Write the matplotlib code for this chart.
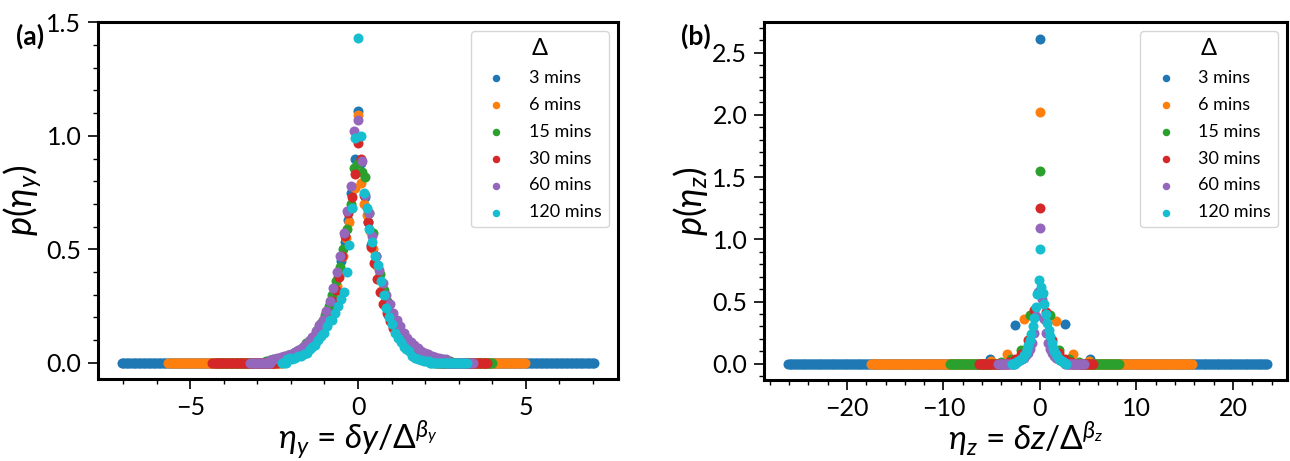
import numpy as np
import matplotlib
matplotlib.use("Agg")
import matplotlib.pyplot as plt
from matplotlib.ticker import MultipleLocator

plt.rcParams['font.family'] = ['Lato', 'DejaVu Sans']
plt.rcParams['mathtext.fontset'] = 'custom'
plt.rcParams['mathtext.rm'] = 'Lato'
plt.rcParams['mathtext.it'] = 'Lato:italic'
plt.rcParams['mathtext.bf'] = 'Lato:bold'

labels = ['3 mins', '6 mins', '15 mins', '30 mins', '60 mins', '120 mins']
colors = ['#1f77b4', '#ff7f0e', '#2ca02c', '#d62728', '#9467bd', '#17becf']

# ---------------- panel (a): eta_y ----------------
# histogram bin width of the central (non-zero) part, 51 bins centred on 0
a_core_step = [0.10, 0.09, 0.11, 0.095, 0.105, 0.085]
a_core_p_3 = [0.012, 0.015, 0.018, 0.022, 0.026, 0.031, 0.037, 0.044, 0.052, 0.062, 0.075, 0.09, 0.105,
              0.125, 0.15, 0.18, 0.22, 0.26, 0.31, 0.38, 0.45, 0.53, 0.63, 0.75, 0.90,
              1.11,
              0.88, 0.73, 0.62, 0.52, 0.44, 0.37, 0.31, 0.26, 0.21, 0.18, 0.15, 0.125, 0.11,
              0.10, 0.08, 0.065, 0.05, 0.042, 0.035, 0.029, 0.024, 0.02, 0.017, 0.014, 0.012]
a_core_p_6 = [0.016, 0.019, 0.022, 0.026, 0.03, 0.036, 0.043, 0.05, 0.06, 0.072, 0.085, 0.10, 0.12,
              0.14, 0.17, 0.2, 0.24, 0.29, 0.34, 0.40, 0.47, 0.55, 0.62, 0.68, 0.77,
              1.09,
              0.79, 0.70, 0.65, 0.58, 0.50, 0.43, 0.37, 0.32, 0.27, 0.23, 0.19, 0.16, 0.14,
              0.12, 0.10, 0.085, 0.072, 0.06, 0.05, 0.042, 0.035, 0.03, 0.025, 0.021, 0.018]
a_core_p_15 = [0.01, 0.012, 0.015, 0.018, 0.022, 0.027, 0.033, 0.04, 0.048, 0.058, 0.07, 0.085, 0.10,
               0.12, 0.145, 0.175, 0.21, 0.25, 0.30, 0.36, 0.42, 0.50, 0.59, 0.70, 0.86,
               0.88,
               0.84, 0.82, 0.66, 0.57, 0.47, 0.39, 0.32, 0.27, 0.22, 0.18, 0.15, 0.12, 0.10,
               0.082, 0.068, 0.056, 0.046, 0.038, 0.032, 0.026, 0.022, 0.018, 0.015, 0.012, 0.01]
a_core_p_30 = [0.012, 0.015, 0.018, 0.021, 0.025, 0.03, 0.036, 0.043, 0.052, 0.063, 0.076, 0.09, 0.11,
               0.13, 0.155, 0.19, 0.22, 0.27, 0.32, 0.38, 0.47, 0.56, 0.66, 0.73, 0.83,
               0.97,
               0.90, 0.74, 0.62, 0.51, 0.44, 0.37, 0.31, 0.26, 0.22, 0.185, 0.155, 0.13, 0.11,
               0.09, 0.075, 0.063, 0.052, 0.043, 0.036, 0.03, 0.025, 0.021, 0.018, 0.015, 0.012]
a_core_p_60 = [0.012, 0.016, 0.02, 0.024, 0.028, 0.033, 0.04, 0.047, 0.056, 0.067, 0.08, 0.095, 0.115,
               0.14, 0.165, 0.19, 0.23, 0.27, 0.33, 0.40, 0.47, 0.57, 0.67, 0.78, 1.02,
               1.07,
               0.89, 0.74, 0.66, 0.56, 0.47, 0.41, 0.35, 0.30, 0.26, 0.22, 0.19, 0.16, 0.13,
               0.11, 0.093, 0.078, 0.065, 0.054, 0.045, 0.038, 0.032, 0.026, 0.022, 0.018, 0.015]
a_core_p_120 = [0.015, 0.02, 0.018, 0.022, 0.028, 0.03, 0.04, 0.045, 0.06, 0.07, 0.08, 0.10, 0.12,
                0.13, 0.16, 0.19, 0.19, 0.22, 0.25, 0.28, 0.31, 0.40, 0.52, 0.68, 0.99,
                1.43,
                1.00, 0.75, 0.68, 0.59, 0.53, 0.47, 0.43, 0.36, 0.30, 0.24, 0.20, 0.17, 0.13,
                0.11, 0.09, 0.07, 0.06, 0.05, 0.03, 0.02, 0.015, 0.012, 0.01, 0.01, 0.01]
a_core_p = [a_core_p_3, a_core_p_6, a_core_p_15, a_core_p_30, a_core_p_60, a_core_p_120]
# extent of each histogram (outside the centre all bins read as p = 0)
a_range_lo = [-7.05, -5.66, -4.25, -4.35, -3.23, -2.26]
a_range_hi = [7.09, 5.02, 4.00, 3.87, 3.45, 3.26]
a_tail_bin = 0.05

# ---------------- panel (b): eta_z ----------------
b_core_x_3 = [-5.2, -2.6, 0.0, 2.6, 5.2]
b_core_p_3 = [0.04, 0.31, 2.61, 0.32, 0.04]
b_core_x_6 = [-5.1, -3.4, -1.7, 0.0, 1.7, 3.4, 5.1]
b_core_p_6 = [0.02, 0.075, 0.36, 2.02, 0.34, 0.075, 0.02]
b_core_x_15 = [-4.0, -3.0, -2.0, -1.0, 0.0, 1.0, 2.0, 3.0, 4.0]
b_core_p_15 = [0.015, 0.04, 0.11, 0.39, 1.55, 0.39, 0.11, 0.04, 0.015]
b_core_x_30 = [-3.2, -2.56, -1.92, -1.28, -0.64, 0.0, 0.64, 1.28, 1.92, 2.56, 3.2]
b_core_p_30 = [0.015, 0.035, 0.08, 0.19, 0.43, 1.25, 0.42, 0.19, 0.085, 0.035, 0.015]
b_core_x_60 = [-2.52, -2.31, -2.1, -1.89, -1.68, -1.47, -1.26, -1.05, -0.84, -0.63, -0.42, -0.21,
               0.0, 0.21, 0.42, 0.63, 0.84, 1.05, 1.26, 1.47, 1.68, 1.89, 2.1, 2.31, 2.52]
b_core_p_60 = [0.015, 0.02, 0.03, 0.04, 0.05, 0.07, 0.09, 0.12, 0.17, 0.25, 0.38, 0.58,
               1.09, 0.52, 0.36, 0.25, 0.17, 0.12, 0.09, 0.065, 0.05, 0.04, 0.03, 0.02, 0.015]
b_core_x_120 = [-2.55, -2.4, -2.25, -2.1, -1.95, -1.8, -1.65, -1.5, -1.35, -1.2, -1.05, -0.9, -0.75,
                -0.6, -0.45, -0.3, -0.15, 0.0, 0.15, 0.3, 0.45, 0.6, 0.75, 0.9, 1.05, 1.2, 1.35,
                1.5, 1.65, 1.8, 1.95, 2.1, 2.25, 2.4, 2.55]
b_core_p_120 = [0.01, 0.015, 0.02, 0.03, 0.04, 0.05, 0.07, 0.09, 0.12, 0.15, 0.19, 0.24, 0.30,
                0.37, 0.46, 0.56, 0.67, 0.92, 0.62, 0.57, 0.48, 0.40, 0.33, 0.27, 0.22, 0.17, 0.13,
                0.10, 0.08, 0.06, 0.04, 0.03, 0.02, 0.015, 0.01]
b_core_x = [b_core_x_3, b_core_x_6, b_core_x_15, b_core_x_30, b_core_x_60, b_core_x_120]
b_core_p = [b_core_p_3, b_core_p_6, b_core_p_15, b_core_p_30, b_core_p_60, b_core_p_120]
b_range_lo = [-26.1, -17.5, -9.36, -6.35, -4.3, -2.9]
b_range_hi = [23.6, 15.9, 8.24, 5.58, 4.6, 2.66]
b_tail_bin = 0.15


def series(core_x, core_p, lo, hi, tail_bin):
    core_x = np.asarray(core_x, float)
    core_p = np.asarray(core_p, float)
    grid = np.arange(lo, hi + 1e-9, tail_bin)
    tail = grid[(grid < core_x.min()) | (grid > core_x.max())]
    x = np.concatenate([tail, core_x])
    p = np.concatenate([np.zeros(len(tail)), core_p])
    return x, p


fig = plt.figure(figsize=(12.9, 4.61), dpi=100)
ax_a = fig.add_axes([98 / 1290, 1 - 379 / 461, 520 / 1290, 357 / 461])
ax_b = fig.add_axes([764 / 1290, 1 - 380 / 461, 523 / 1290, 358 / 461])

for i in range(6):
    n = len(a_core_p[i])
    cx = a_core_step[i] * (np.arange(n) - n // 2)
    x, p = series(cx, a_core_p[i], a_range_lo[i], a_range_hi[i], a_tail_bin)
    ax_a.scatter(x, p, s=52, color=colors[i], linewidths=0, label=labels[i], zorder=2 + i)

    x, p = series(b_core_x[i], b_core_p[i], b_range_lo[i], b_range_hi[i], b_tail_bin)
    ax_b.scatter(x, p, s=52, color=colors[i], linewidths=0, label=labels[i], zorder=2 + i)

ax_a.set_xlim(-7.76, 7.76)
ax_a.set_ylim(-0.0715, 1.5015)
ax_b.set_xlim(-28.6, 25.6)
ax_b.set_ylim(-0.13, 2.745)

ax_a.xaxis.set_major_locator(MultipleLocator(5))
ax_a.xaxis.set_minor_locator(MultipleLocator(1))
ax_a.yaxis.set_major_locator(MultipleLocator(0.5))
ax_a.yaxis.set_minor_locator(MultipleLocator(0.1))
ax_b.xaxis.set_major_locator(MultipleLocator(10))
ax_b.xaxis.set_minor_locator(MultipleLocator(2))
ax_b.yaxis.set_major_locator(MultipleLocator(0.5))
ax_b.yaxis.set_minor_locator(MultipleLocator(0.1))

for ax in (ax_a, ax_b):
    for sp in ax.spines.values():
        sp.set_linewidth(2.2)
    ax.tick_params(which='major', length=7, width=1.2, labelsize=18, pad=5)
    ax.tick_params(which='minor', length=3.6, width=1.0)
    leg = ax.legend(title='Δ', loc='upper right', fontsize=13, title_fontsize=17,
                    markerscale=0.75, borderaxespad=0.5, labelspacing=0.6)
    leg.get_frame().set_edgecolor('#cccccc')

ax_a.set_xlabel(r'$\eta_y$ = $\delta y/\Delta^{\beta_y}$', fontsize=24, labelpad=0)
ax_a.set_ylabel(r'$p(\eta_y)$', fontsize=26, labelpad=2)
ax_b.set_xlabel(r'$\eta_z$ = $\delta z/\Delta^{\beta_z}$', fontsize=24, labelpad=0)
ax_b.set_ylabel(r'$p(\eta_z)$', fontsize=26, labelpad=2)

fig.text(30 / 1290, 1 - 36 / 461, '(a)', ha='center', va='center', fontsize=19, fontweight='bold')
fig.text(696 / 1290, 1 - 36 / 461, '(b)', ha='center', va='center', fontsize=19, fontweight='bold')

fig.savefig('out.png', dpi=100)
